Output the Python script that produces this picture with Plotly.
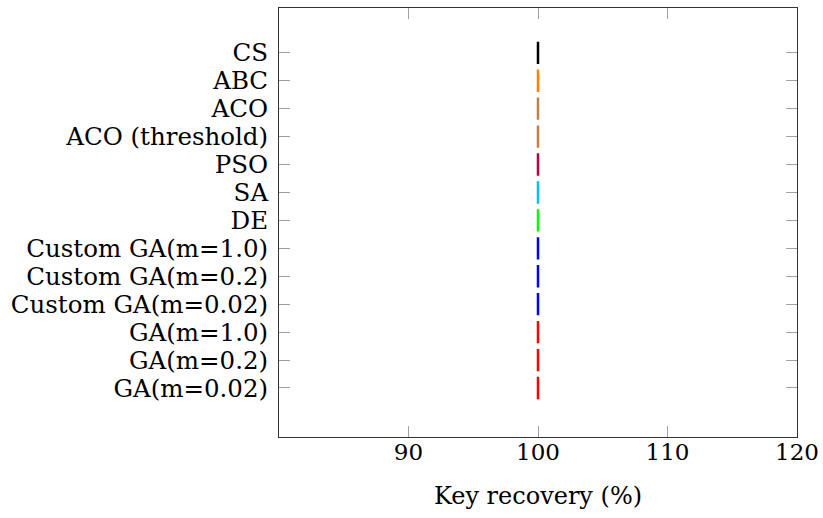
import plotly.graph_objects as go

methods = ["GA(m=0.02)", "GA(m=0.2)", "GA(m=1.0)",
           "Custom GA(m=0.02)", "Custom GA(m=0.2)", "Custom GA(m=1.0)",
           "DE", "SA", "PSO", "ACO (threshold)", "ACO", "ABC", "CS"]
colors = ["#FF0000", "#FF0000", "#FF0000",
          "#0000FF", "#0000FF", "#0000FF",
          "#00FF00", "#00BFFF", "#BF0040", "#BF8040", "#BF8040", "#FF8000", "#000000"]

ga_002 = [100, 100, 100, 100, 100]
ga_02 = [100, 100, 100, 100, 100]
ga_10 = [100, 100, 100, 100, 100]
cga_002 = [100, 100, 100, 100, 100]
cga_02 = [100, 100, 100, 100, 100]
cga_10 = [100, 100, 100, 100, 100]
de = [100, 100, 100, 100, 100]
sa = [100, 100, 100, 100, 100]
pso = [100, 100, 100, 100, 100]
aco_thr = [100, 100, 100, 100, 100]
aco = [100, 100, 100, 100, 100]
abc = [100, 100, 100, 100, 100]
cs = [100, 100, 100, 100, 100]
series = [ga_002, ga_02, ga_10, cga_002, cga_02, cga_10, de, sa, pso, aco_thr, aco, abc, cs]

x_ticks = [90, 100, 110, 120]

FONT = "DejaVu Serif"
fig = go.Figure()
for name, vals, col in zip(methods, series, colors):
    fig.add_trace(go.Box(
        x=vals, y=[name] * len(vals), orientation="h", name=name,
        boxpoints=False, width=0.8, line=dict(color=col, width=2.5),
        fillcolor="rgba(0,0,0,0)", whiskerwidth=1, showlegend=False))

fig.update_layout(
    width=823, height=518,
    margin=dict(l=279, r=26, t=8, b=81),
    paper_bgcolor="white", plot_bgcolor="white",
    font=dict(family=FONT, size=24, color="black"),
    xaxis=dict(range=[80, 120], tickmode="array", tickvals=x_ticks, ticks="inside", ticklen=11,
               tickcolor="#a0a0a0", tickwidth=1, mirror="allticks", showline=True,
               linecolor="#333333", linewidth=1, showgrid=False, zeroline=False,
               automargin=False, ticklabelstandoff=-6,
               title=dict(text="Key recovery (%)", standoff=23, font=dict(size=24)),
               tickfont=dict(size=23)),
    yaxis=dict(type="category", categoryorder="array", categoryarray=methods,
               tickmode="array", tickvals=methods, ticktext=methods,
               range=[-1.755, 13.605], ticks="inside", ticklen=11,
               tickcolor="#a0a0a0", tickwidth=1, mirror="allticks", showline=True,
               linecolor="#333333", linewidth=1, showgrid=False, zeroline=False,
               automargin=False, ticklabelstandoff=5,
               tickfont=dict(size=24.5)),
)
fig.write_html("out.html")
